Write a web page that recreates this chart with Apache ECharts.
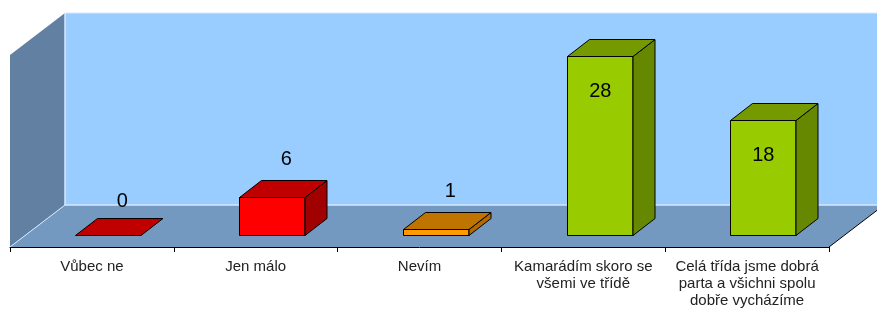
<!DOCTYPE html>
<html>
<head>
<meta charset="utf-8">
<script src="https://cdn.jsdelivr.net/npm/echarts@6/dist/echarts.min.js"></script>
<style>
  html, body { margin: 0; padding: 0; background: #fff; }
  #chart { width: 877px; height: 309px; }
</style>
</head>
<body>
<div id="chart"></div>
<script>
// data
var categories = [
  'Vůbec ne',
  'Jen málo',
  'Nevím',
  'Kamarádím skoro se\nvšemi ve třídě',
  'Celá třída jsme dobrá\nparta a všichni spolu\ndobře vycházíme'
];
var counts = [0, 6, 1, 28, 18];
var yMax = 30;

// front / top / side colours for each bar
var faceColors = [
  ['#FF0000', '#C00000', '#A00000'],
  ['#FF0000', '#C00000', '#A00000'],
  ['#FF9900', '#C07400', '#B06A00'],
  ['#99CC00', '#749A00', '#668800'],
  ['#99CC00', '#749A00', '#668800']
];

var chart = echarts.init(document.getElementById('chart'));

// 3d offsets (px)
var WALL_DX = 55, WALL_DY = -42;   // depth of the floor
var BAR_FX = 16, BAR_FY = -12;     // bar front face sits a bit behind the front edge
var BAR_DX = 22, BAR_DY = -17;     // bar depth

// the walls and floor
function renderWalls(params, api) {
  var cs = params.coordSys;
  var x = cs.x, y = cs.y, w = cs.width, h = cs.height;
  return {
    type: 'group',
    children: [
      { type: 'rect', shape: { x: x + WALL_DX, y: y + WALL_DY, width: w + 10, height: h },
        style: { fill: '#99CCFF' } },
      { type: 'polygon', shape: { points: [[x, y], [x + WALL_DX, y + WALL_DY], [x + WALL_DX, y + h + WALL_DY], [x, y + h]] },
        style: { fill: '#6180A2' } },
      { type: 'polygon', shape: { points: [[x, y + h], [x + WALL_DX, y + h + WALL_DY], [x + w + WALL_DX, y + h + WALL_DY], [x + w, y + h]] },
        style: { fill: '#7399C0' } },
      // light edges
      { type: 'polyline', shape: { points: [[x + WALL_DX, y + WALL_DY], [x + WALL_DX, y + h + WALL_DY], [x + w + WALL_DX, y + h + WALL_DY]] },
        style: { stroke: '#D6E8FF', lineWidth: 1.5, fill: null } },
      { type: 'line', shape: { x1: x, y1: y + h, x2: x + WALL_DX, y2: y + h + WALL_DY },
        style: { stroke: '#D6E8FF', lineWidth: 1 } },
      { type: 'line', shape: { x1: x + WALL_DX, y1: y + WALL_DY, x2: x + w + WALL_DX + 10, y2: y + WALL_DY },
        style: { stroke: '#D6E8FF', lineWidth: 1 } },
      // floor right edge
      { type: 'line', shape: { x1: x + w, y1: y + h, x2: x + w + WALL_DX, y2: y + h + WALL_DY },
        style: { stroke: '#000', lineWidth: 1 } }
    ]
  };
}

function renderBar(params, api) {
  var idx = api.value(0), val = api.value(1);
  var top = api.coord([idx, val]);
  var base = api.coord([idx, 0]);
  var w = api.size([1, 0])[0] * 0.4;
  var x0 = Math.round(base[0] - w / 2 + BAR_FX) + 0.5;
  var x1 = Math.round(x0 + w);
  var yb = Math.round(base[1] + BAR_FY) + 0.5;
  var yt = Math.round(top[1] + BAR_FY) + 0.5;
  var c = faceColors[params.dataIndex];
  var edge = { stroke: '#000', lineWidth: 1, lineJoin: 'round' };
  var kids = [];
  if (yb - yt > 0.5) {
    kids.push({ type: 'rect', shape: { x: x0, y: yt, width: x1 - x0, height: yb - yt },
      style: Object.assign({ fill: c[0] }, edge) });
    kids.push({ type: 'polygon', shape: { points: [[x1, yt], [x1 + BAR_DX, yt + BAR_DY], [x1 + BAR_DX, yb + BAR_DY], [x1, yb]] },
      style: Object.assign({ fill: c[2] }, edge) });
  }
  kids.push({ type: 'polygon', shape: { points: [[x0, yt], [x1, yt], [x1 + BAR_DX, yt + BAR_DY], [x0 + BAR_DX, yt + BAR_DY]] },
    style: Object.assign({ fill: c[1] }, edge) });

  var inside = val >= 10;
  kids.push({
    type: 'text',
    style: {
      text: String(val),
      x: inside ? (x0 + x1) / 2 : (x0 + x1) / 2 + BAR_DX / 2 + 3,
      y: inside ? yt + 35 : yt + BAR_DY - (val > 0 ? 21 : 17),
      align: 'center',
      verticalAlign: 'middle',
      fontSize: 20,
      fontFamily: 'Liberation Sans, Arial',
      fill: '#000'
    }
  });
  return { type: 'group', children: kids };
}

var option = {
  animation: false,
  grid: { left: 10, right: 48, top: 55, bottom: 61 },
  xAxis: {
    type: 'category',
    data: categories,
    z: 10,
    axisLine: { lineStyle: { color: '#000', width: 1 } },
    axisTick: { show: true, length: 5, lineStyle: { color: '#000' } },
    axisLabel: {
      interval: 0,
      margin: 11,
      color: '#222',
      fontSize: 15,
      lineHeight: 17,
      fontFamily: 'Liberation Sans, Arial'
    }
  },
  yAxis: {
    type: 'value',
    min: 0,
    max: yMax,
    show: false
  },
  series: [
    {
      type: 'custom',
      z: 1,
      silent: true,
      renderItem: renderWalls,
      data: [[0, 0]]
    },
    {
      type: 'custom',
      z: 3,
      renderItem: renderBar,
      data: counts.map(function (v, i) { return [i, v]; })
    }
  ]
};

chart.setOption(option);
</script>
</body>
</html>
